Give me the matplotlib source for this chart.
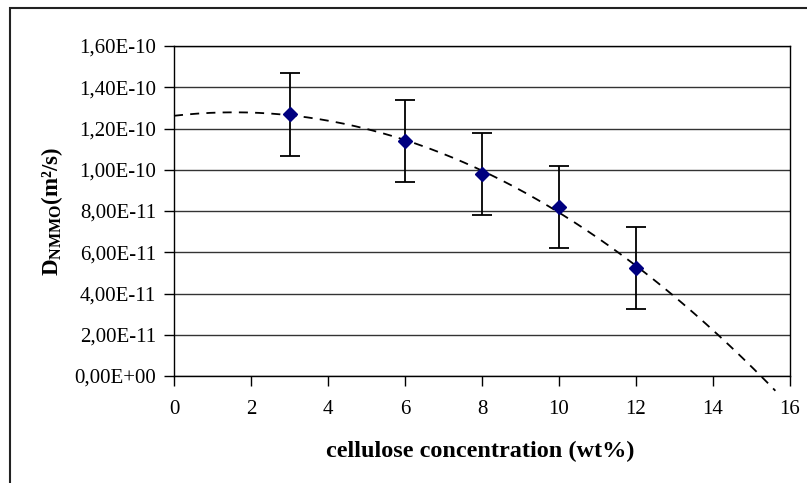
import matplotlib
matplotlib.use("Agg")
import matplotlib.pyplot as plt
import numpy as np
from matplotlib.patches import Rectangle
from matplotlib.ticker import FuncFormatter

plt.rcParams['font.family'] = ['Liberation Serif', 'DejaVu Serif']
plt.rcParams['mathtext.fontset'] = 'custom'
plt.rcParams['mathtext.rm'] = 'Liberation Serif'
plt.rcParams['mathtext.bf'] = 'Liberation Serif:bold'
plt.rcParams['mathtext.it'] = 'Liberation Serif:italic'

# data
conc = [3, 6, 8, 10, 12]
diff = [1.268e-10, 1.14e-10, 0.98e-10, 0.82e-10, 0.523e-10]
err = [2.0e-11, 2.0e-11, 2.0e-11, 2.0e-11, 2.0e-11]
x_ticks = [0, 2, 4, 6, 8, 10, 12, 14, 16]
y_ticks = [0, 2e-11, 4e-11, 6e-11, 8e-11, 1e-10, 1.2e-10, 1.4e-10, 1.6e-10]
trend_end = 15.62

W, H = 807, 483
fig = plt.figure(figsize=(W / 100, H / 100), dpi=100)

# outer border
fig.patches.append(Rectangle((10 / W, -0.05), 1.2, 1 - 8 / H + 0.05,
                             transform=fig.transFigure, fill=False,
                             edgecolor='#222222', linewidth=1.5))

ax = fig.add_axes([174 / W, 1 - 376 / H, (790 - 174) / W, (376 - 46) / H])
ax.set_xlim(0, 16)
ax.set_ylim(0, 1.6e-10)
ax.set_xticks(x_ticks)
ax.set_yticks(y_ticks)
ax.yaxis.set_major_formatter(FuncFormatter(lambda v, p: f"{v:.2E}".replace('.', ',')))
ax.xaxis.set_major_formatter(FuncFormatter(lambda v, p: f"{v:g}"))
ax.grid(axis='y', color='#333333', linewidth=1.0)
ax.set_axisbelow(True)
for s in ax.spines.values():
    s.set_color('black')
    s.set_linewidth(1.0)
ax.tick_params(axis='both', direction='out', length=7, width=1, colors='black',
               labelsize=15)
ax.tick_params(axis='x', pad=10)
ax.tick_params(axis='y', pad=6)

# trendline (2nd order polynomial fit of data)
coef = np.polyfit(conc, diff, 2)
xt = np.linspace(0, trend_end, 200)
ax.plot(xt, np.polyval(coef, xt), linestyle=(0, (5, 4)), color='black',
        linewidth=1.3, clip_on=False, zorder=3)

ax.errorbar(conc, diff, yerr=err, fmt='D', color='#000080', markersize=7,
            ecolor='black', elinewidth=1.3, capsize=7, capthick=1.3, zorder=4)

fig.text(480 / W, 1 - 451 / H, 'cellulose concentration (wt%)', ha='center',
         va='center', fontsize=17.5, fontweight='bold')
fig.text(52 / W, 1 - 212 / H, r'$\mathbf{D}_{\mathbf{NMMO}}$(m²/s)', rotation=90,
         ha='center', va='center', fontsize=16.5, fontweight='bold')

fig.savefig('out.png', dpi=100)
